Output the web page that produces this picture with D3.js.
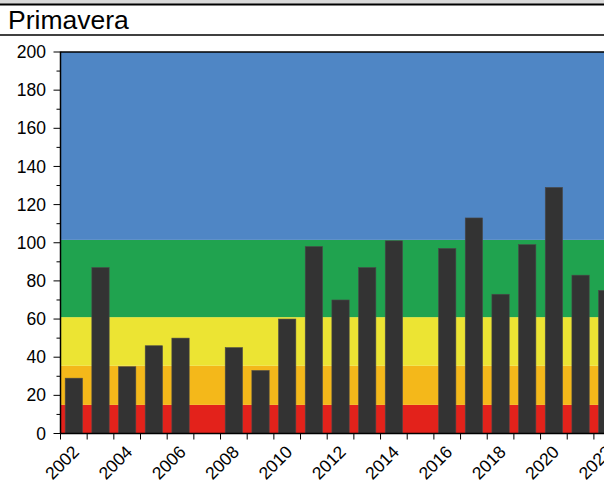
<!DOCTYPE html>
<html><head><meta charset="utf-8">
<script src="https://cdn.jsdelivr.net/npm/d3@7"></script>
<style>body{margin:0;background:#fff;overflow:hidden}svg{display:block}text{font-family:"Liberation Sans",Arial,sans-serif}</style>
</head><body>
<script>
const title = "Primavera";
const years = [2002,2003,2004,2005,2006,2007,2008,2009,2010,2011,2012,2013,2014,2015,2016,2017,2018,2019,2020,2021,2022];
const values = [29,87,35,46,50,null,45,33,60,98,70,87,101,null,97,113,73,99,129,83,75];
const bandLimits = [0,15,35.5,61,101.5,200];
const bandColors = ["#e3221b","#f4b81a","#ece433","#20a34f","#4f86c5"];
const yTicks = [0,20,40,60,80,100,120,140,160,180,200];
const xLabelYears = [2002,2004,2006,2008,2010,2012,2014,2016,2018,2020,2022];

const W=604,H=482;
const svg=d3.select("body").append("svg").attr("width",W).attr("height",H);
svg.append("rect").attr("x",0).attr("y",0).attr("width",W).attr("height",4).attr("fill","#d9d9d9");
svg.append("line").attr("x1",0).attr("x2",W).attr("y1",4.5).attr("y2",4.5).attr("stroke","#000").attr("stroke-width",2);
svg.append("text").attr("x",8).attr("y",29).attr("font-size",26.5).attr("fill","#000").text(title);
svg.append("line").attr("x1",0).attr("x2",W).attr("y1",35).attr("y2",35).attr("stroke","#000").attr("stroke-width",1.5);

const pLeft=60.5, pTop=52, pBottom=433.5;
const x=d3.scaleLinear().domain([2002,2023]).range([pLeft,pLeft+21*26.67]);
const y=d3.scaleLinear().domain([0,200]).range([pBottom,pTop]);

const g=svg.append("g");
g.selectAll("rect.band").data(bandColors).join("rect").attr("class","band")
  .attr("x",pLeft).attr("width",W-pLeft+20)
  .attr("y",(c,i)=>y(bandLimits[i+1])).attr("height",(c,i)=>y(bandLimits[i])-y(bandLimits[i+1]))
  .attr("fill",c=>c);

const data=years.map((yr,i)=>({yr,v:values[i]})).filter(d=>d.v!=null);
g.selectAll("rect.bar").data(data).join("rect").attr("class","bar")
  .attr("x",d=>x(d.yr+0.176)).attr("width",d=>x(d.yr+0.824)-x(d.yr+0.176))
  .attr("y",d=>y(d.v)).attr("height",d=>y(0)-y(d.v))
  .attr("fill","#333333").attr("stroke","#4a4a4a").attr("stroke-width",0.6);

svg.append("line").attr("x1",pLeft).attr("x2",W).attr("y1",pTop).attr("y2",pTop).attr("stroke","#000").attr("stroke-width",1.5);

const ya=svg.append("g");
ya.append("line").attr("x1",pLeft).attr("x2",pLeft).attr("y1",pTop-0.5).attr("y2",pBottom+0.5).attr("stroke","#000").attr("stroke-width",1.5);
const minor=d3.range(10,200,20);
ya.selectAll("line.mj").data(yTicks).join("line").attr("class","mj")
  .attr("x1",pLeft-7).attr("x2",pLeft).attr("y1",d=>y(d)).attr("y2",d=>y(d)).attr("stroke","#000").attr("stroke-width",1);
ya.selectAll("line.mn").data(minor).join("line").attr("class","mn")
  .attr("x1",pLeft-4).attr("x2",pLeft).attr("y1",d=>y(d)).attr("y2",d=>y(d)).attr("stroke","#000").attr("stroke-width",1);
ya.selectAll("text").data(yTicks).join("text")
  .attr("x",46).attr("y",d=>y(d)).attr("dy","0.35em").attr("text-anchor","end")
  .attr("font-size",17.5).attr("fill","#000").text(d=>d);

const xa=svg.append("g");
xa.append("line").attr("x1",pLeft).attr("x2",W).attr("y1",pBottom).attr("y2",pBottom).attr("stroke","#000").attr("stroke-width",1.5);
const tickYears=d3.range(2002,2024);
xa.selectAll("line.t").data(tickYears).join("line").attr("class","t")
  .attr("x1",d=>x(d)).attr("x2",d=>x(d)).attr("y1",pBottom).attr("y2",pBottom+6).attr("stroke","#000").attr("stroke-width",1);
xa.selectAll("text").data(xLabelYears).join("text")
  .attr("transform",d=>`translate(${x(d)+1.5},${462.5}) rotate(-45)`)
  .attr("text-anchor","middle").attr("dy","0.35em")
  .attr("font-size",17.5).attr("fill","#000").text(d=>d);
</script>
</body></html>
